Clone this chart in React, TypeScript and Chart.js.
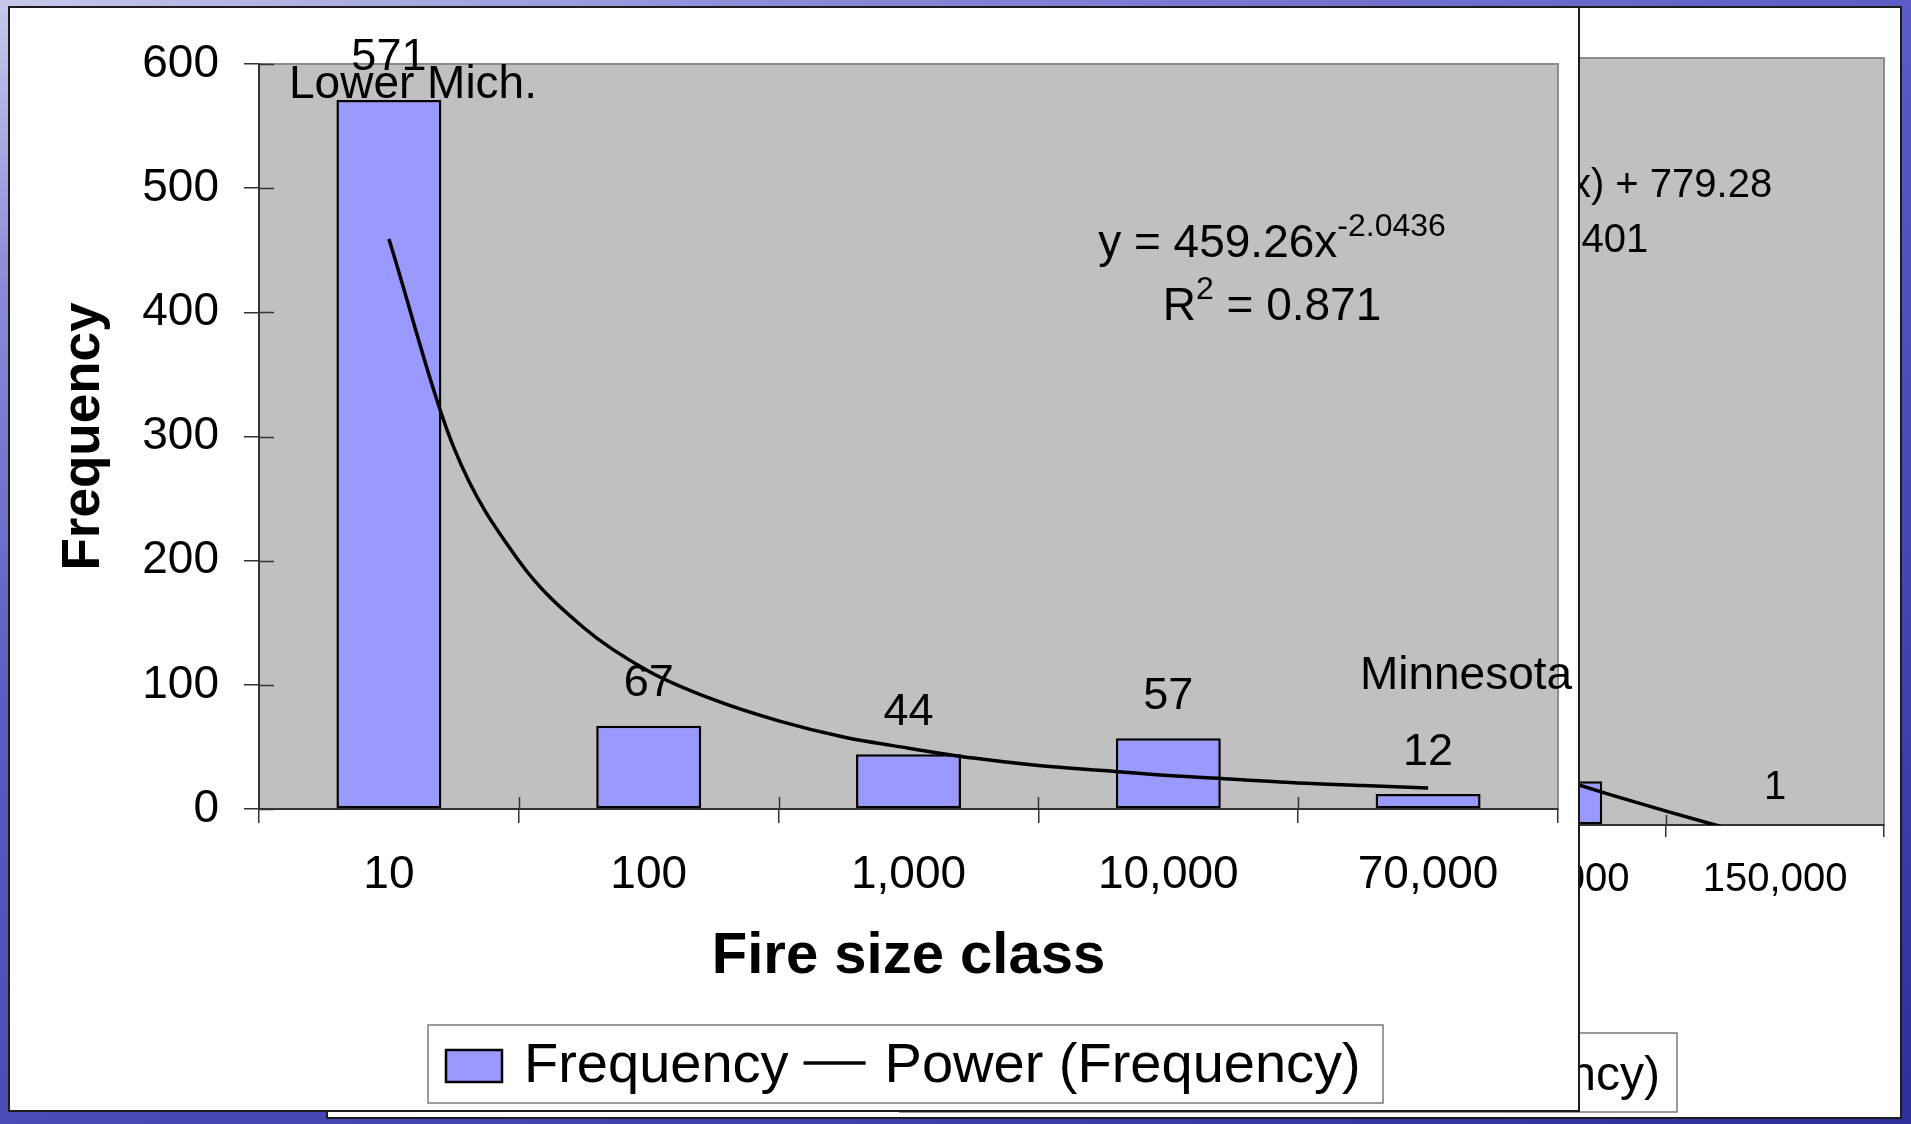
import React, { useEffect, useRef } from "react";
import { Chart, registerables } from "chart.js";

Chart.register(...registerables);

const FONT = '"Liberation Sans", Arial, Helvetica, sans-serif';
Chart.defaults.font.family = FONT;

// ---------- Front chart (Lower Mich. / Minnesota) ----------
const FRONT_CATEGORIES = ["10", "100", "1,000", "10,000", "70,000"];
const FRONT_FREQUENCY = [571, 67, 44, 57, 12];
const FRONT_TREND_X = [1, 1.25, 1.5, 1.75, 2, 2.25, 2.5, 2.75, 3, 3.25, 3.5, 3.75, 4, 4.25, 4.5, 4.75, 5];
const FRONT_TREND_Y = [459, 291, 200, 146, 111, 88, 71, 58, 49, 41, 35, 31, 27, 24, 21, 19, 17];
const FRONT_Y_MAX = 600;
const FRONT_Y_STEP = 100;
const FRONT_EQUATION = "y = 459.26x";
const FRONT_EXPONENT = "-2.0436";
const FRONT_R2 = " = 0.871";
const FRONT_NOTES = ["Lower Mich.", "Minnesota"];

// ---------- Back chart (partly hidden) ----------
const BACK_CATEGORIES = ["10", "100", "1,000", "10,000", "100,000", "150,000"];
const BACK_FREQUENCY = [850, 400, 210, 140, 57, 1];
const BACK_TREND_X = [1, 1.25, 1.5, 1.75, 2, 2.25, 2.5, 2.75, 3, 3.25, 3.5, 3.75, 4, 4.25, 4.5, 4.75, 5, 5.25, 5.5, 5.75, 6];
const BACK_TREND_Y = [779, 680, 598, 530, 470, 417, 370, 328, 289, 253, 220, 189, 160, 133, 108, 84, 61, 39, 18, -2, -21];
const BACK_Y_MAX = 1000;
const BACK_Y_STEP = 200;
const BACK_EQUATION = "y = -446.41Ln(x) + 779.28";
const BACK_R2 = " = 0.9401";

const BAR_FILL = "#9999ff";
const AXIS_COLOR = "#333333";

type Part = { text: string; size: number; raise: number };

function drawPlotArea(chart: any) {
  const { ctx, chartArea: a } = chart;
  ctx.save();
  ctx.fillStyle = "#c0c0c0";
  ctx.fillRect(a.left, a.top, a.right - a.left, a.bottom - a.top);
  ctx.strokeStyle = "#8c8c8c";
  ctx.lineWidth = 2;
  ctx.strokeRect(a.left, a.top, a.right - a.left, a.bottom - a.top);
  ctx.restore();
}

function drawInnerTicks(chart: any, yLen: number, xLen: number) {
  const { ctx, chartArea: a } = chart;
  const ys = chart.scales.y;
  const xs = chart.scales.x;
  ctx.save();
  ctx.strokeStyle = AXIS_COLOR;
  ctx.lineWidth = 1.5;
  ctx.beginPath();
  if (yLen > 0) {
    ys.ticks.forEach((t: any) => {
      const py = Math.round(ys.getPixelForValue(t.value)) + 0.5;
      ctx.moveTo(a.left, py);
      ctx.lineTo(a.left + yLen, py);
    });
  }
  const n = xs.getLabels().length;
  for (let i = 1; i < n; i++) {
    const px = Math.round(xs.getPixelForValue(i - 0.5)) + 0.5;
    ctx.moveTo(px, a.bottom);
    ctx.lineTo(px, a.bottom - xLen);
  }
  ctx.stroke();
  ctx.restore();
}

function drawBarLabels(chart: any, size: number, gap: number) {
  const { ctx } = chart;
  const idx = chart.data.datasets.findIndex((d: any) => d.type === "bar");
  const meta = chart.getDatasetMeta(idx);
  const values = chart.data.datasets[idx].data;
  ctx.save();
  ctx.fillStyle = "#000";
  ctx.font = `${size}px ${FONT}`;
  ctx.textAlign = "center";
  ctx.textBaseline = "middle";
  meta.data.forEach((bar: any, i: number) => {
    ctx.fillText(String(values[i]), bar.x, bar.y - gap);
  });
  ctx.restore();
}

function drawEquation(ctx: any, cx: number, lines: { baseline: number; parts: Part[] }[]) {
  ctx.save();
  ctx.fillStyle = "#000";
  ctx.textAlign = "left";
  ctx.textBaseline = "alphabetic";
  lines.forEach((line) => {
    const widths = line.parts.map((p) => {
      ctx.font = `${p.size}px ${FONT}`;
      return ctx.measureText(p.text).width;
    });
    const total = widths.reduce((s, w) => s + w, 0);
    let x = cx - total / 2;
    line.parts.forEach((p, i) => {
      ctx.font = `${p.size}px ${FONT}`;
      ctx.fillText(p.text, x, line.baseline - p.raise);
      x += widths[i];
    });
  });
  ctx.restore();
}

function drawLegend(ctx: any, L: any) {
  ctx.save();
  ctx.font = `${L.size}px ${FONT}`;
  const w1 = ctx.measureText(L.label1).width;
  const w2 = ctx.measureText(L.label2).width;
  const content = L.swatchW + L.gapSwatch + w1 + L.gapText + L.dashW + L.gapDash + w2;
  const left = L.left !== undefined ? L.left : L.right - L.rightPad - content - L.pad;
  const right = L.right !== undefined ? L.right : left + L.pad + content + L.rightPad;
  ctx.fillStyle = "#ffffff";
  ctx.fillRect(left, L.top, right - left, L.bottom - L.top);
  ctx.strokeStyle = "#7a7a7a";
  ctx.lineWidth = 1.5;
  ctx.strokeRect(left, L.top, right - left, L.bottom - L.top);
  let x = left + L.pad;
  ctx.fillStyle = BAR_FILL;
  ctx.fillRect(x, L.swatchTop, L.swatchW, L.swatchH);
  ctx.strokeStyle = "#000";
  ctx.lineWidth = 2.5;
  ctx.strokeRect(x, L.swatchTop, L.swatchW, L.swatchH);
  x += L.swatchW + L.gapSwatch;
  ctx.fillStyle = "#000";
  ctx.textBaseline = "alphabetic";
  ctx.textAlign = "left";
  ctx.fillText(L.label1, x, L.baseline);
  x += w1 + L.gapText;
  ctx.lineWidth = 3.5;
  ctx.beginPath();
  ctx.moveTo(x, L.dashY);
  ctx.lineTo(x + L.dashW, L.dashY);
  ctx.stroke();
  x += L.dashW + L.gapDash;
  ctx.fillText(L.label2, x, L.baseline);
  ctx.restore();
}

const frontDecor = {
  id: "frontDecor",
  beforeDraw(chart: any) {
    drawPlotArea(chart);
  },
  beforeDatasetsDraw(chart: any) {
    drawInnerTicks(chart, 15, 12);
  },
  afterDatasetsDraw(chart: any) {
    const { ctx } = chart;
    drawBarLabels(chart, 45, 42);
    ctx.save();
    ctx.fillStyle = "#000";
    ctx.font = `46px ${FONT}`;
    ctx.textAlign = "center";
    ctx.textBaseline = "middle";
    ctx.fillText(FRONT_NOTES[0], 403, 77);
    ctx.fillText(FRONT_NOTES[1], 1456, 668);
    ctx.restore();
    drawEquation(ctx, 1262, [
      { baseline: 249, parts: [{ text: FRONT_EQUATION, size: 46, raise: 0 }, { text: FRONT_EXPONENT, size: 32, raise: 21 }] },
      { baseline: 312, parts: [{ text: "R", size: 46, raise: 0 }, { text: "2", size: 32, raise: 21 }, { text: FRONT_R2, size: 46, raise: 0 }] },
    ]);
  },
  afterDraw(chart: any) {
    drawLegend(chart.ctx, {
      left: 418, right: 1373, top: 1017, bottom: 1095, size: 56, baseline: 1074,
      swatchTop: 1042, swatchW: 56, swatchH: 32, pad: 18, gapSwatch: 22, gapText: 15,
      dashW: 62, gapDash: 19, dashY: 1055, rightPad: 22,
      label1: "Frequency", label2: "Power (Frequency)",
    });
  },
};

const backDecor = {
  id: "backDecor",
  beforeDraw(chart: any) {
    drawPlotArea(chart);
  },
  beforeDatasetsDraw(chart: any) {
    drawInnerTicks(chart, 13, 10);
  },
  afterDatasetsDraw(chart: any) {
    drawBarLabels(chart, 40, 36);
    drawEquation(chart.ctx, 1214, [
      { baseline: 189, parts: [{ text: BACK_EQUATION, size: 40, raise: 0 }] },
      { baseline: 244, parts: [{ text: "R", size: 40, raise: 0 }, { text: "2", size: 28, raise: 19 }, { text: BACK_R2, size: 40, raise: 0 }] },
    ]);
  },
  afterDraw(chart: any) {
    drawLegend(chart.ctx, {
      right: 1349, top: 1025, bottom: 1104, size: 48, baseline: 1082,
      swatchTop: 1054, swatchW: 49, swatchH: 28, pad: 16, gapSwatch: 19, gapText: 13,
      dashW: 54, gapDash: 17, dashY: 1065, rightPad: 17,
      label1: "Frequency", label2: "Log. (Frequency)",
    });
  },
};

function makeConfig(o: any) {
  const n = o.categories.length;
  return {
    type: "bar",
    data: {
      labels: o.categories,
      datasets: [
        {
          type: "line",
          label: o.trendLabel,
          data: o.trendX.map((x: number, i: number) => ({ x, y: o.trendY[i] })),
          xAxisID: "xt",
          yAxisID: "y",
          borderColor: "#000",
          borderWidth: 3.5,
          pointRadius: 0,
          tension: 0.4,
          cubicInterpolationMode: "monotone",
          fill: false,
          order: 0,
        },
        {
          type: "bar",
          label: "Frequency",
          data: o.values,
          xAxisID: "x",
          yAxisID: "y",
          backgroundColor: BAR_FILL,
          borderColor: "#000",
          borderWidth: 2.5,
          borderSkipped: false,
          grouped: false,
          categoryPercentage: 1,
          barPercentage: o.barPct,
          order: 1,
        },
      ],
    },
    options: {
      responsive: false,
      maintainAspectRatio: false,
      animation: false,
      devicePixelRatio: 1,
      events: [],
      layout: { padding: { left: 0, top: o.padTop, right: o.padRight, bottom: 0 } },
      plugins: { legend: { display: false }, tooltip: { enabled: false }, title: { display: false } },
      scales: {
        x: {
          type: "category",
          position: "bottom",
          offset: true,
          grid: { display: true, drawOnChartArea: false, offset: true, tickLength: o.xTickLen, color: AXIS_COLOR, lineWidth: 1.5 },
          border: { display: true, color: AXIS_COLOR, width: 2 },
          ticks: { font: { family: FONT, size: o.tickSize }, color: "#000", padding: o.xTickPad, maxRotation: 0, autoSkip: false },
          title: {
            display: true,
            text: "Fire size class",
            font: { family: FONT, size: o.xTitleSize, weight: "bold" },
            color: "#000",
            padding: { top: 0, bottom: o.xTitlePadBottom },
          },
          afterFit: (s: any) => {
            s.height = o.xAxisHeight;
          },
        },
        xt: {
          type: "linear",
          axis: "x",
          position: "bottom",
          display: false,
          offset: false,
          bounds: "data",
          min: 0.5,
          max: n + 0.5,
          grid: { offset: false },
        },
        y: {
          type: "linear",
          position: "left",
          min: 0,
          max: o.yMax,
          ticks: { stepSize: o.yStep, font: { family: FONT, size: o.tickSize }, color: "#000", padding: o.yTickPad },
          grid: { display: true, drawOnChartArea: false, tickLength: o.yTickLen, color: AXIS_COLOR, lineWidth: 1.5 },
          border: { display: true, color: AXIS_COLOR, width: 2 },
          title: {
            display: true,
            text: "Frequency",
            font: { family: FONT, size: o.yTitleSize, weight: "bold" },
            color: "#000",
            padding: { top: o.yTitlePadTop, bottom: 0 },
          },
          afterFit: (s: any) => {
            s.width = o.yAxisWidth;
          },
        },
      },
    },
    plugins: [o.decor],
  };
}

export default function App() {
  const backRef = useRef<HTMLCanvasElement>(null);
  const frontRef = useRef<HTMLCanvasElement>(null);

  useEffect(() => {
    const back = new Chart(
      backRef.current as HTMLCanvasElement,
      makeConfig({
        categories: BACK_CATEGORIES,
        values: BACK_FREQUENCY,
        trendX: BACK_TREND_X,
        trendY: BACK_TREND_Y,
        trendLabel: "Log. (Frequency)",
        barPct: 0.413,
        padTop: 50,
        padRight: 16,
        xTickLen: 12,
        xTickPad: 19,
        tickSize: 40,
        xTitleSize: 50,
        xTitlePadBottom: 102,
        xAxisHeight: 292,
        yMax: BACK_Y_MAX,
        yStep: BACK_Y_STEP,
        yTickPad: 22,
        yTickLen: 13,
        yTitleSize: 45,
        yTitlePadTop: 38,
        yAxisWidth: 249,
        decor: backDecor,
      }) as any
    );
    const front = new Chart(
      frontRef.current as HTMLCanvasElement,
      makeConfig({
        categories: FRONT_CATEGORIES,
        values: FRONT_FREQUENCY,
        trendX: FRONT_TREND_X,
        trendY: FRONT_TREND_Y,
        trendLabel: "Power (Frequency)",
        barPct: 0.404,
        padTop: 56,
        padRight: 20,
        xTickLen: 14,
        xTickPad: 25,
        tickSize: 46,
        xTitleSize: 58,
        xTitlePadBottom: 118,
        xAxisHeight: 301,
        yMax: FRONT_Y_MAX,
        yStep: FRONT_Y_STEP,
        yTickPad: 25,
        yTickLen: 15,
        yTitleSize: 53,
        yTitlePadTop: 43,
        yAxisWidth: 249,
        decor: frontDecor,
      }) as any
    );
    return () => {
      front.destroy();
      back.destroy();
    };
  }, []);

  return (
    <div
      style={{
        position: "fixed",
        left: 0,
        top: 0,
        width: 1911,
        height: 1124,
        overflow: "hidden",
        background:
          "linear-gradient(160deg, #c8c8ec 0%, #8a8ad8 16%, #5c5cc4 38%, #4646b4 68%, #2e2e9c 100%)",
      }}
    >
      <div
        style={{
          position: "absolute",
          left: 326,
          top: 6,
          width: 1576,
          height: 1113,
          boxSizing: "border-box",
          border: "2px solid #1c1c1c",
          background: "#ffffff",
        }}
      >
        <canvas ref={backRef} width={1572} height={1109} style={{ display: "block", width: 1572, height: 1109 }} />
      </div>
      <div
        style={{
          position: "absolute",
          left: 8,
          top: 6,
          width: 1572,
          height: 1106,
          boxSizing: "border-box",
          border: "2px solid #1c1c1c",
          background: "#ffffff",
        }}
      >
        <canvas ref={frontRef} width={1568} height={1102} style={{ display: "block", width: 1568, height: 1102 }} />
      </div>
    </div>
  );
}
